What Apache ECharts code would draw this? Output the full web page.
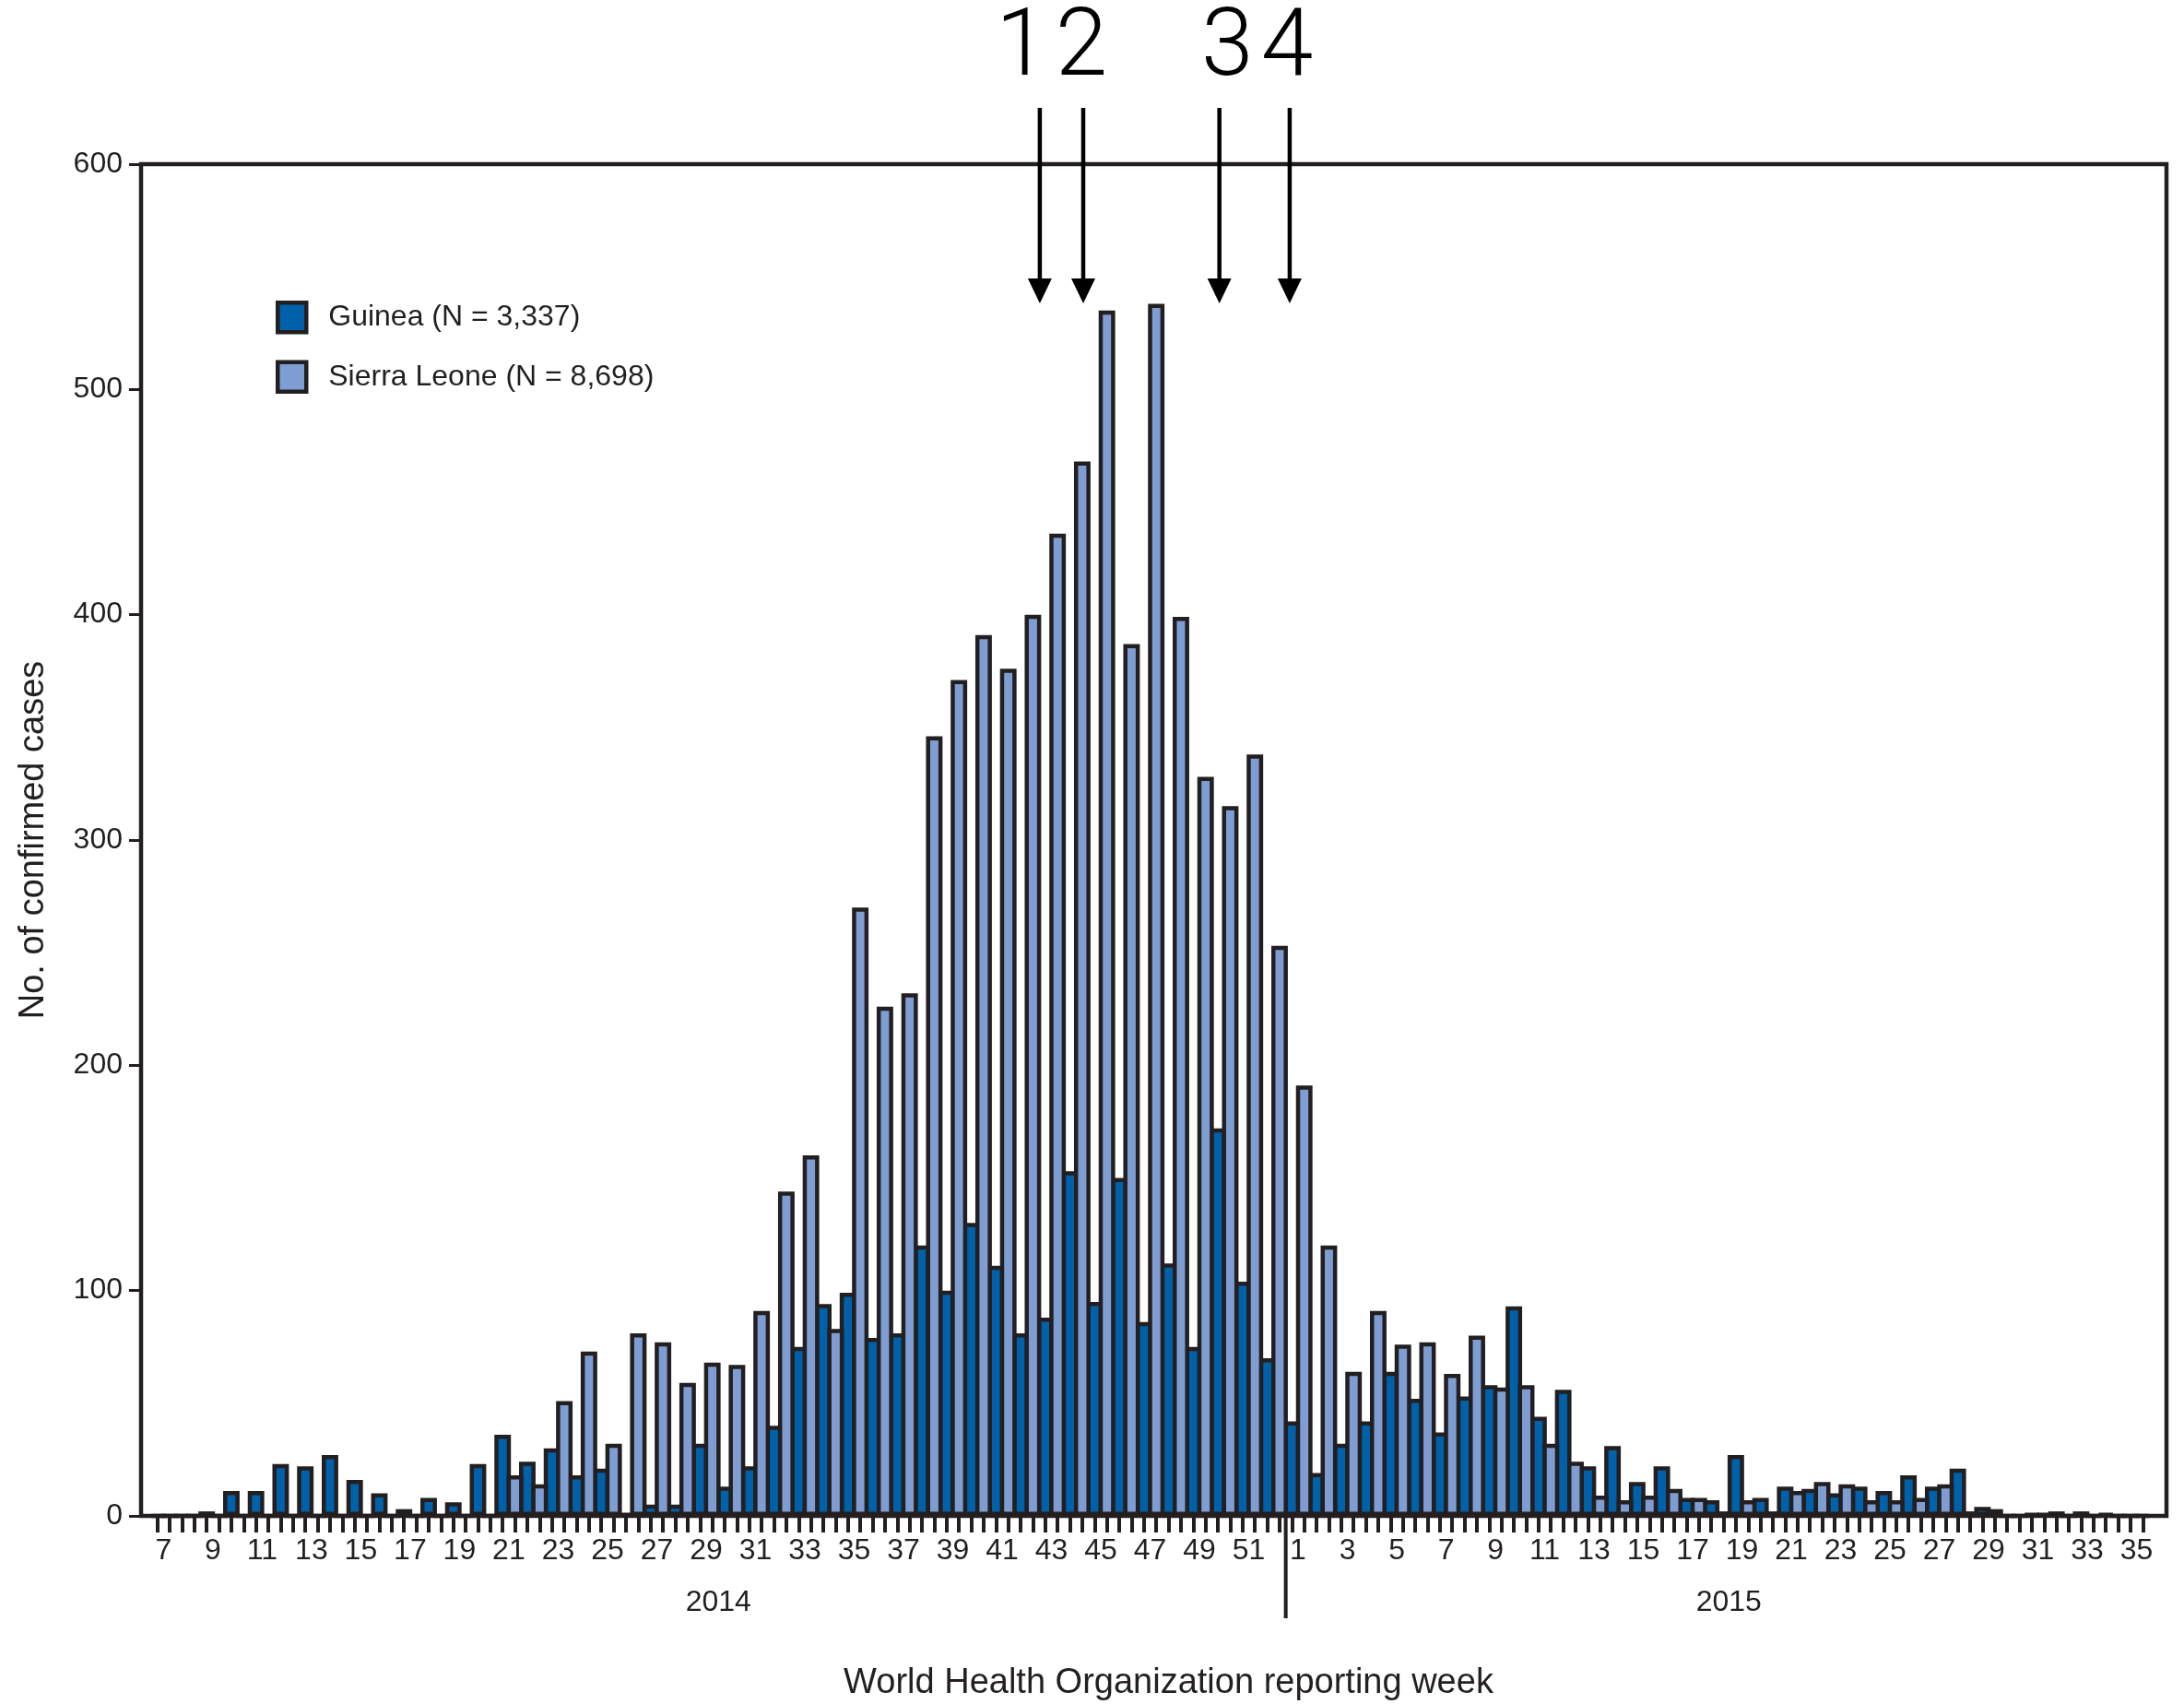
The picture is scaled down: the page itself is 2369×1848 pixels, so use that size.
<!DOCTYPE html>
<html><head><meta charset="utf-8">
<script src="https://cdn.jsdelivr.net/npm/echarts@6/dist/echarts.min.js"></script>
<style>html,body{margin:0;padding:0;background:#fff}#c{width:2369px;height:1848px}</style>
</head><body><div id="c"></div>
<script>
// ---- DATA ----
const weeks2014 = ['7','8','9','10','11','12','13','14','15','16','17','18','19','20','21','22','23','24','25','26','27','28','29','30','31','32','33','34','35','36','37','38','39','40','41','42','43','44','45','46','47','48','49','50','51','52'];
const weeks2015 = ['1','2','3','4','5','6','7','8','9','10','11','12','13','14','15','16','17','18','19','20','21','22','23','24','25','26','27','28','29','30','31','32','33','34','35'];
const years = ['2014', '2015'];
const guinea2014 = [0,0,2,11,11,23,22,27,16,10, 3,8,6,23,36,24,30,18,21,1, 5,5,32,13,22,40,75,94,99,79, 81,120,100,130,111,81,88,153,95,150, 86,112,75,172,104,70];
const guinea2015 = [42,19,32,42,64,52,37,53,58,93, 44,56,22,31,15,22,8,7,27,8, 13,12,10,13,11,18,13,21,4,0, 1,2,2,1,0];
const sierraLeone2014 = [0,0,0,0,0,0,0,0,0,0, 0,0,0,0,18,14,51,73,32,81, 77,59,68,67,91,144,160,83,270,226, 232,346,371,391,376,400,436,468,535,387, 538,399,328,315,338,253];
const sierraLeone2015 = [191,120,64,91,76,77,63,80,57,58, 32,24,9,7,9,12,8,2,7,2, 11,15,14,7,7,8,14,2,3,0, 1,0,0,0,0];
const seriesNames = ['Guinea (N = 3,337)', 'Sierra Leone (N = 8,698)'];
const yMin = 0, yMax = 600, yStep = 100;
const annotationTexts = ['1', '2', '3', '4'];
const yTitle = 'No. of confirmed cases';
const xTitle = 'World Health Organization reporting week';

// ---- build ----
const weekLabels = weeks2014.concat(weeks2015);
const guinea = guinea2014.concat(guinea2015);
const sierraLeone = sierraLeone2014.concat(sierraLeone2015);
const barSlots = weekLabels.flatMap((w, i) => [i + 'G', i + 'S']);

function hasFont(name) {
  const c = document.createElement('canvas').getContext('2d');
  const t = 'Guinea (N = 3,337) 0123456789 World Health';
  c.font = '40px monospace'; const a = c.measureText(t).width;
  c.font = '40px "' + name + '", monospace'; const b = c.measureText(t).width;
  return Math.abs(a - b) > 0.5;
}
let FONT = '"Liberation Sans Narrow"', K = 1;
if (!hasFont('Liberation Sans Narrow')) { FONT = '"Liberation Sans", Arial, sans-serif'; K = 0.83; }
const fs = v => Math.round(v * K);
const INK = '#231f20';
const DARK = '#0061ab', LIGHT = '#7e9ed3';
const BORDER = 4.5;

const chart = echarts.init(document.getElementById('c'), null, {renderer: 'canvas', width: 2369, height: 1848});
const option = {
  animation: false,
  backgroundColor: '#ffffff',
  grid: [{left: 164, right: 38, top: 178, bottom: 204, containLabel: false, outerBoundsMode: 'none'}],
  legend: {
    orient: 'vertical', left: 294, top: 321, itemWidth: 31, itemHeight: 32, itemGap: 28,
    icon: 'rect',
    itemStyle: {borderColor: INK, borderWidth: 4.5},
    textStyle: {fontFamily: FONT, fontSize: fs(39), color: INK, padding: [0, 0, 0, 19]},
    data: seriesNames
  },
  xAxis: [{
    type: 'category', data: weekLabels, gridIndex: 0, position: 'bottom',
    axisLine: {show: false}, axisTick: {show: false},
    axisLabel: {interval: 1, margin: 22, fontFamily: FONT, fontSize: fs(38), color: INK},
    name: xTitle, nameLocation: 'middle', nameGap: 163,
    nameTextStyle: {fontFamily: FONT, fontSize: fs(46), color: INK, padding: [0, 0, 0, 40]}
  }, {
    type: 'category', data: barSlots, gridIndex: 0, position: 'bottom',
    axisLine: {show: false}, axisLabel: {show: false},
    axisTick: {show: true, alignWithLabel: true, interval: 0, length: 18, lineStyle: {width: 4, color: INK}}
  }],
  yAxis: [{
    type: 'value', min: yMin, max: yMax, interval: yStep, position: 'left', offset: 11,
    axisLine: {show: true, lineStyle: {color: INK, width: 4}},
    axisTick: {show: true, length: 13, lineStyle: {color: INK, width: 3}},
    axisLabel: {margin: 20, fontFamily: FONT, fontSize: fs(38), color: INK},
    splitLine: {show: false},
    name: yTitle, nameLocation: 'middle', nameGap: 97, nameRotate: 90,
    nameTextStyle: {fontFamily: FONT, fontSize: fs(46), color: INK}
  }],
  series: [{
    name: seriesNames[0], type: 'bar', data: guinea, xAxisIndex: 0, yAxisIndex: 0,
    barWidth: '67%', barGap: '-25.3%',
    itemStyle: {color: DARK, borderColor: INK, borderWidth: BORDER}
  }, {
    name: seriesNames[1], type: 'bar', data: sierraLeone, xAxisIndex: 0, yAxisIndex: 0,
    barWidth: '67%', barGap: '-25.3%',
    itemStyle: {color: LIGHT, borderColor: INK, borderWidth: BORDER}
  }]
};
chart.setOption(option);

// ---- annotations positioned from the axes ----
const px = i => chart.convertToPixel({xAxisIndex: 0}, i);
const step = px(1) - px(0);
const xAt = f => px(0) + step * f;
const y0 = chart.convertToPixel({yAxisIndex: 0}, yMin);
const yTop = chart.convertToPixel({yAxisIndex: 0}, yMax);
const nW14 = weeks2014.length;
const sepX = xAt(nW14 - 0.5);
const startX = xAt(-0.5), endX = xAt(weekLabels.length - 0.5);
const frameL = startX - 11, frameR = endX + 19;

const g = [];
g.push({type: 'rect', z: 5, shape: {x: frameL, y: yTop, width: frameR - frameL, height: y0 - yTop},
  style: {fill: 'none', stroke: INK, lineWidth: 4.5}});
g.push({type: 'line', z: 5, shape: {x1: sepX, y1: y0, x2: sepX, y2: 1755}, style: {stroke: INK, lineWidth: 4}});
g.push({type: 'text', z: 5, style: {text: years[0], x: (startX + sepX) / 2, y: 1738, align: 'center', verticalAlign: 'middle',
  font: fs(38) + 'px ' + FONT, fill: INK}});
g.push({type: 'text', z: 5, style: {text: years[1], x: (sepX + frameR) / 2 + 3, y: 1738, align: 'center', verticalAlign: 'middle',
  font: fs(38) + 'px ' + FONT, fill: INK}});
// arrows (fractional week-index positions)
const arrowPos = [35.53, 37.29, 42.81, 45.66];
arrowPos.forEach(f => {
  const x = xAt(f);
  g.push({type: 'line', z: 6, shape: {x1: x, y1: 117, x2: x, y2: 308}, style: {stroke: '#000', lineWidth: 4.5}});
  g.push({type: 'polygon', z: 6, shape: {points: [[x - 13, 302], [x + 13, 302], [x, 329]]}, style: {fill: '#000'}});
});
const numPos = [34.8, 37.22, 43.13, 45.55];
annotationTexts.forEach((t, k) => {
  g.push({type: 'text', z: 6, style: {text: t, x: xAt(numPos[k]), y: 55, align: 'center', verticalAlign: 'middle',
    font: '300 102px Roboto, "Liberation Sans", sans-serif', fill: '#000'}});
});
chart.setOption({graphic: g});
</script>
</body></html>
